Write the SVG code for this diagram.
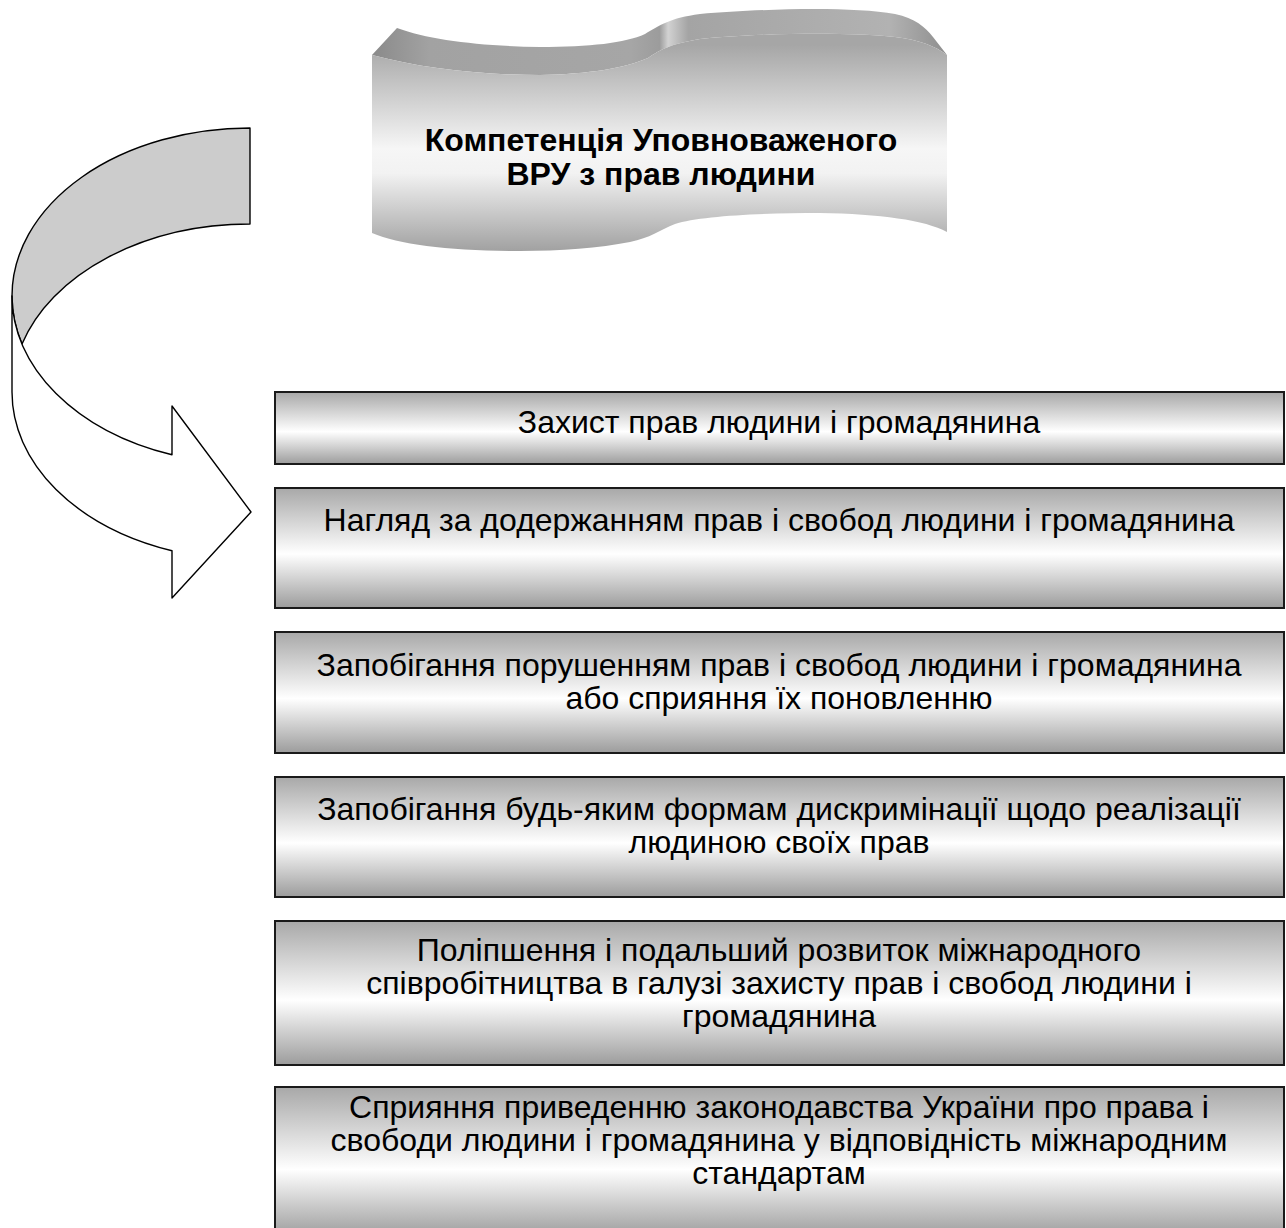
<svg xmlns="http://www.w3.org/2000/svg" width="1286" height="1228" viewBox="0 0 1286 1228">
<style>
.box{stroke:#1a1a1a;stroke-width:2;fill:url(#boxg)}
.t{font-family:"Liberation Sans",Arial,sans-serif;font-size:32px;fill:#000;text-anchor:middle}
.title{font-family:"Liberation Sans",Arial,sans-serif;font-size:32px;font-weight:bold;fill:#000;text-anchor:middle}
.arr{stroke:#000;stroke-width:1.4;stroke-linejoin:round}
</style>
<defs>
<linearGradient id="boxg" x1="0" y1="0" x2="0" y2="1">
<stop offset="0" stop-color="#a8a8a8"/>
<stop offset="0.55" stop-color="#ffffff"/>
<stop offset="1" stop-color="#9c9c9c"/>
</linearGradient>
<linearGradient id="banG" gradientUnits="userSpaceOnUse" x1="0" y1="45" x2="0" y2="252">
<stop offset="0" stop-color="#a6a6a6"/>
<stop offset="0.5" stop-color="#f6f6f6"/>
<stop offset="0.62" stop-color="#f2f2f2"/>
<stop offset="1" stop-color="#a0a0a0"/>
</linearGradient>
<linearGradient id="bandG" gradientUnits="userSpaceOnUse" x1="372" y1="0" x2="947" y2="0">
<stop offset="0" stop-color="#8a8a8a"/>
<stop offset="0.1" stop-color="#a2a2a2"/>
<stop offset="0.45" stop-color="#a6a6a6"/>
<stop offset="0.5" stop-color="#9c9c9c"/>
<stop offset="0.515" stop-color="#d2d2d2"/>
<stop offset="0.55" stop-color="#a4a4a4"/>
<stop offset="0.9" stop-color="#b2b2b2"/>
<stop offset="1" stop-color="#8e8e8e"/>
</linearGradient>
</defs>

<g id="banner">
<path d="M397,28 C430,40 480,46 540,47 C590,47 625,43 645,34 C660,25 670,18 700,14 C760,9 850,6 895,14 C915,18 925,27 933,37 L947,55 C935,46 920,40 895,37 C850,32 760,33 700,39 C670,44 660,50 648,58 C625,68 590,74 540,75 C480,75 420,68 372,55 Z" fill="url(#bandG)"/>
<path d="M372,55 C420,68 480,75 540,75 C590,74 625,68 648,58 C660,50 670,44 700,39 C760,33 850,32 895,37 C920,40 935,46 947,55 L947,232 C925,220 880,214 820,213 C760,213 700,216 675,224 C660,230 650,238 630,242 C600,248 560,251 520,251 C450,251 400,245 372,233 Z" fill="url(#banG)"/>
<text class="title" x="661" y="151">Компетенція Уповноваженого</text>
<text class="title" x="661" y="185">ВРУ з прав людини</text>
</g>

<g id="curved-arrow">
<path class="arr" fill="#cccccc" d="M250,128 A238,168 0 0 0 12,296 A238,168 0 0 0 22,344 A238,168 0 0 1 250,224 Z"/>
<path class="arr" fill="#ffffff" d="M12,296 L12,392 A238,168 0 0 0 172,550.8 L172,598 L251,512 L172,406 L172,454.8 A238,168 0 0 1 12,296 Z"/>
</g>

<g id="box1">
<rect class="box" x="275" y="392" width="1009" height="72"/>
<text class="t" x="779" y="433">Захист прав людини і громадянина</text>
</g>
<g id="box2">
<rect class="box" x="275" y="488" width="1009" height="120"/>
<text class="t" x="779" y="531">Нагляд за додержанням прав і свобод людини і громадянина</text>
</g>
<g id="box3">
<rect class="box" x="275" y="632" width="1009" height="121"/>
<text class="t" x="779" y="676">Запобігання порушенням прав і свобод людини і громадянина</text>
<text class="t" x="779" y="709">або сприяння їх поновленню</text>
</g>
<g id="box4">
<rect class="box" x="275" y="777" width="1009" height="120"/>
<text class="t" x="779" y="820">Запобігання будь-яким формам дискримінації щодо реалізації</text>
<text class="t" x="779" y="853">людиною своїх прав</text>
</g>
<g id="box5">
<rect class="box" x="275" y="921" width="1009" height="144"/>
<text class="t" x="779" y="961">Поліпшення і подальший розвиток міжнародного</text>
<text class="t" x="779" y="994">співробітництва в галузі захисту прав і свобод людини і</text>
<text class="t" x="779" y="1027">громадянина</text>
</g>
<g id="box6">
<rect class="box" x="275" y="1087" width="1009" height="150"/>
<text class="t" x="779" y="1118">Сприяння приведенню законодавства України про права і</text>
<text class="t" x="779" y="1151">свободи людини і громадянина у відповідність міжнародним</text>
<text class="t" x="779" y="1184">стандартам</text>
</g>
<g id="connectors"></g>
</svg>
